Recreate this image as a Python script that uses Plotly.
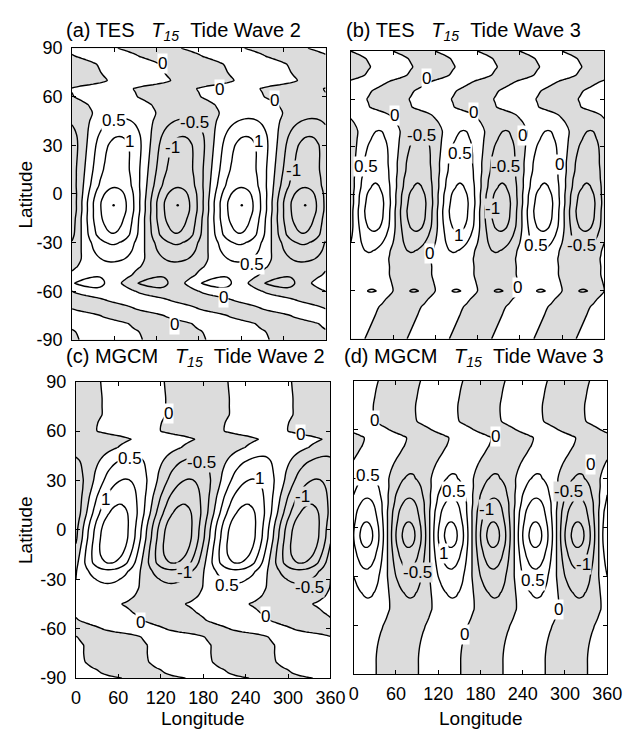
import numpy as np
import plotly.graph_objects as go

# ---------------- data ----------------
LON = list(range(0, 365, 5))          # longitude grid (deg)
LAT = list(range(-90, 95, 5))         # latitude grid (deg), south -> north

# (a) TES wave 2 : amplitude (K) and longitude of maximum (deg) per latitude
AMP_A = [0.10, 0.15, 0.20, 0.25, 0.30, 0.30, 0.42, 0.68, 0.47, 0.35,
         0.60, 0.85, 1.05, 1.48, 1.62, 1.75, 1.85, 1.85, 1.70, 1.45,
         1.35, 1.25, 1.22, 1.20, 1.15, 1.02, 0.80, 0.57, 0.35, 0.28,
         0.25, 0.22, 0.25, 0.25, 0.25, 0.20, 0.15]
PHS_A = [235, 230, 215, 175, 130, 90, 45, 25, 40, 52,
         58, 58, 58, 58, 58, 58, 59, 59, 60, 61,
         62, 63, 64, 65, 66, 67, 68, 70, 74, 68,
         48, 42, 95, 86, 80, 50, 20]

# (b) TES wave 3
AMP_B = [0.10, 0.15, 0.20, 0.25, 0.30, 0.38, 0.53, 0.38, 0.33, 0.35,
         0.42, 0.52, 0.70, 0.90, 1.12, 1.25, 1.30, 1.28, 1.20, 1.05,
         0.95, 0.85, 0.80, 0.75, 0.68, 0.58, 0.51, 0.40, 0.33, 0.30,
         0.28, 0.28, 0.28, 0.28, 0.25, 0.20, 0.15]
PHS_B = [-10, -5, 0, 5, 10, 20, 30, 28, 25, 25,
         24, 26, 30, 32, 33, 33, 33, 34, 34, 35,
         35, 36, 36, 37, 38, 39, 40, 35, 25, -3,
         -7, 0, 20, 50, 58, 52, 30]

# (c) MGCM wave 2
AMP_C = [0.05, 0.12, 0.20, 0.25, 0.30, 0.30, 0.30, 0.30, 0.25, 0.20,
         0.30, 0.40, 0.60, 0.90, 1.52, 1.75, 1.88, 1.92, 1.90, 1.82,
         1.68, 1.52, 1.37, 1.20, 1.03, 0.86, 0.68, 0.49, 0.32, 0.22,
         0.20, 0.20, 0.20, 0.18, 0.15, 0.12, 0.08]
PHS_C = [200, 165, 148, 146, 146, 137, 82, 50, 35, 20,
         38, 44, 45, 46, 48, 50, 52, 54, 55, 57,
         60, 62, 64, 67, 70, 72, 76, 84, 104, 123,
         75, 76, 82, 82, 82, 81, 80]

# (d) MGCM wave 3
AMP_D = [0.08, 0.12, 0.18, 0.22, 0.25, 0.28, 0.30, 0.35, 0.40, 0.47,
         0.56, 0.70, 0.85, 1.02, 1.20, 1.38, 1.60, 1.70, 1.62, 1.45,
         1.30, 1.12, 0.92, 0.72, 0.55, 0.47, 0.42, 0.40, 0.35, 0.32,
         0.30, 0.30, 0.28, 0.25, 0.20, 0.15, 0.10]
PHS_D = [2, 2, 2, 3, 5, 8, 12, 17, 21, 21,
         20, 19, 18, 18, 18, 18, 18, 18, 18, 18,
         18, 19, 19, 20, 20, 23, 28, 35, 42, 45,
         20, 0, -2, -2, 0, 2, 5]

# cell-centre dots drawn in panel (a)
DOT_A_LON = [59, 150, 241, 331]
DOT_A_LAT = [-7, -7, -7, -7]

# contour labels (longitude, latitude, text) for each panel
LBL_A_LON = [128, 210, 288, 59, 174, 82, 142, 265, 315, 256, 215, 146]
LBL_A_LAT = [80.4, 64.4, 57.4, 45.4, 44.4, 32.4, 28.4, 32.4, 14.4, -43.6, -63.6, -80.6]
LBL_A_TXT = ["0", "0", "0", "0.5", "-0.5", "1", "-1", "1", "-1", "0.5", "0", "0"]

LBL_B_LON = [107, 62, 174, 100, 21, 155, 244, 219, 297, 201, 153, 263, 327, 112, 237]
LBL_B_LAT = [72.8, 49.5, 51.5, 37.3, 18, 26.1, 37.3, 18, 19, -8.3, -25.5, -31.6, -31.6, -36.7, -58]
LBL_B_TXT = ["0", "0", "0", "-0.5", "0.5", "0.5", "0", "-0.5", "0", "-1", "1", "0.5", "-0.5", "0", "0"]

LBL_C_LON = [131, 318, 77, 177, 259, 42, 320, 154, 213, 330, 92, 268]
LBL_C_LAT = [70.7, 57.9, 43.1, 41.1, 31.2, 18.4, 20.4, -25.9, -33.8, -34.8, -56.5, -52.5]
LBL_C_TXT = ["0", "0", "0.5", "-0.5", "1", "1", "-1", "-1", "0.5", "-0.5", "0", "0"]

LBL_D_LON = [29, 201, 336, 20, 142, 188, 305, 128, 91, 254, 327, 291, 158]
LBL_D_LAT = [65.8, 55.8, 38.9, 32, 22, 11.2, 22, -15.7, -27.6, -32.6, -22.6, -50.5, -65.5]
LBL_D_TXT = ["0", "0", "0", "0.5", "0.5", "-1", "-0.5", "1", "-0.5", "0.5", "-1", "0", "0"]

LON_TICKS = [0, 60, 120, 180, 240, 300, 360]
LON_TEXT = ["0", "60", "120", "180", "240", "300", "360"]
LAT_TICKS = [-90, -60, -30, 0, 30, 60, 90]
LAT_TEXT = ["-90", "-60", "-30", "0", "30", "60", "90"]

PANELS = [
    ("(a) TES", 2, AMP_A, PHS_A, LBL_A_LON, LBL_A_LAT, LBL_A_TXT),
    ("(b) TES", 3, AMP_B, PHS_B, LBL_B_LON, LBL_B_LAT, LBL_B_TXT),
    ("(c) MGCM", 2, AMP_C, PHS_C, LBL_C_LON, LBL_C_LAT, LBL_C_TXT),
    ("(d) MGCM", 3, AMP_D, PHS_D, LBL_D_LON, LBL_D_LAT, LBL_D_TXT),
]

# ---------------- layout geometry (page pixels) ----------------
PAGE_W, PAGE_H = 637, 737
OFF = 8                                # default <body> margin of the html page
W, H = PAGE_W - 2 * OFF, PAGE_H - 2 * OFF
BOX = [(69, 331, 39, 339), (357, 619, 42, 338), (73, 336, 382, 687), (360, 622, 381, 683)]
TITLE_POS = [(61, 22), (350, 22), (61, 357), (348, 357)]
FONT = "Liberation Sans, Arial, Helvetica, sans-serif"
SHADE = "#dcdcdc"
NB = "\u00a0"


def fx(px):
    return (px - OFF) / W


def fy(py):
    return 1 - (py - OFF) / H


def wave_field(amp, phs, s):
    lon = np.array(LON, dtype=float)
    return [list(a * np.cos(np.radians(s * (lon - p)))) for a, p in zip(amp, phs)]


fig = go.Figure()
annotations = []
for k, (name, s, amp, phs, llon, llat, ltxt) in enumerate(PANELS):
    ax = "" if k == 0 else str(k + 1)
    fig.add_trace(go.Contour(
        x=LON, y=LAT, z=wave_field(amp, phs, s),
        xaxis="x" + ax, yaxis="y" + ax,
        autocontour=False, zmin=-3, zmax=3,
        contours=dict(start=-3, end=3, size=0.5, coloring="fill",
                      showlines=True, showlabels=False),
        colorscale=[[0, SHADE], [0.483, SHADE], [0.484, "white"], [1, "white"]],
        line=dict(color="black", width=1.4, smoothing=1),
        showscale=False, hoverinfo="skip",
    ))
    x0, x1, y0, y1 = BOX[k]
    bottom = k >= 2
    left = k % 2 == 0
    fig.layout["xaxis" + ax] = dict(
        domain=[fx(x0), fx(x1)], range=[0, 360], anchor="y" + ax,
        tickvals=LON_TICKS, ticktext=LON_TEXT, showticklabels=bottom,
        ticks="inside", ticklen=4, tickcolor="black", mirror="ticks",
        showline=True, linecolor="black", linewidth=1, showgrid=False, zeroline=False,
        tickfont=dict(family=FONT, size=18, color="black"), ticklabelstandoff=3,
    )
    fig.layout["yaxis" + ax] = dict(
        domain=[fy(y1), fy(y0)], range=[-90, 90], anchor="x" + ax,
        tickvals=LAT_TICKS, ticktext=LAT_TEXT, showticklabels=left,
        ticks="inside", ticklen=4, tickcolor="black", mirror="ticks",
        showline=True, linecolor="black", linewidth=1, showgrid=False, zeroline=False,
        tickfont=dict(family=FONT, size=18, color="black"), ticklabelstandoff=5,
    )
    tx, ty = TITLE_POS[k]
    annotations.append(dict(
        text=name + NB * 3 + "<i>T</i><sub><i>15</i></sub>" + NB * 2 + "Tide Wave " + str(s),
        x=fx(tx), y=fy(ty), xref="paper", yref="paper",
        xanchor="left", yanchor="middle", showarrow=False,
        font=dict(family=FONT, size=20, color="black")))
    for lo, la, tt in zip(llon, llat, ltxt):
        annotations.append(dict(
            text=tt, x=lo, y=la, xref="x" + ax, yref="y" + ax,
            xanchor="center", yanchor="middle", showarrow=False,
            bgcolor=SHADE if tt.startswith("-") else "white", borderpad=0,
            font=dict(family=FONT, size=17, color="black")))

fig.add_trace(go.Scatter(x=DOT_A_LON, y=DOT_A_LAT, mode="markers", xaxis="x", yaxis="y",
                         marker=dict(size=2.5, color="black"), hoverinfo="skip"))

for yc in (190, 535):
    annotations.append(dict(text="Latitude", x=fx(21), y=fy(yc), xref="paper", yref="paper",
                            textangle=-90, showarrow=False, xanchor="center", yanchor="middle",
                            font=dict(family=FONT, size=19, color="black")))
for xc in (204, 491):
    annotations.append(dict(text="Longitude", x=fx(xc), y=fy(728), xref="paper", yref="paper",
                            showarrow=False, xanchor="center", yanchor="middle",
                            font=dict(family=FONT, size=19, color="black")))

fig.update_layout(width=W, height=H, autosize=False,
                  margin=dict(l=0, r=0, t=0, b=0),
                  paper_bgcolor="white", plot_bgcolor="white",
                  annotations=annotations, showlegend=False)
fig.write_html("out.html")
